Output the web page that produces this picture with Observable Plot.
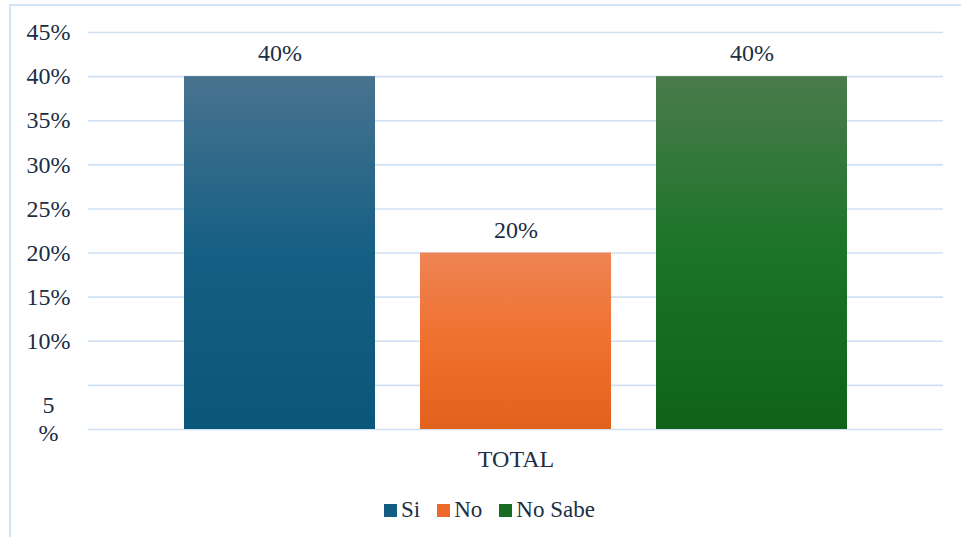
<!DOCTYPE html>
<html>
<head>
<meta charset="utf-8">
<script src="https://cdn.jsdelivr.net/npm/d3@7"></script>
<script src="https://cdn.jsdelivr.net/npm/@observablehq/plot@0.6"></script>
<style>
  html, body { margin: 0; padding: 0; background: #fff; overflow: hidden; width: 961px; height: 537px; }
  #frame { position: absolute; left: 9px; top: 4px; width: 1000px; height: 600px; border: 2px solid #d3e3f5; box-sizing: border-box; }
  #chart { position: absolute; left: 0; top: 0; }
  #legend { position: absolute; top: 497px; left: 384px; display: flex; align-items: center; font-family: "Liberation Serif", "Times New Roman", Tinos, "DejaVu Serif", serif; font-size: 23px; color: #1c2e45; white-space: nowrap; }
  .item { display: flex; align-items: center; margin-right: 17px; }
  .sw { width: 13px; height: 13px; margin-right: 4px; }
  svg text { font-family: "Liberation Serif", "Times New Roman", Tinos, "DejaVu Serif", serif !important; }
</style>
</head>
<body>
<div id="frame"></div>
<div id="chart"></div>
<div id="legend"></div>
<script>
const categories = ["Si", "No", "No Sabe"];
const values = [40, 20, 40];
const group = "TOTAL";
const yTicks = [0, 5, 10, 15, 20, 25, 30, 35, 40, 45];
const legendColors = ["#135c84", "#ee6a2a", "#176c22"];
const gradTop = ["#48738f", "#ee8454", "#4a7b4b"];
const gradMid = ["#165f84", "#f0702e", "#1b7428"];
const gradBot = ["#0a5678", "#e2621c", "#106318"];

const data = categories.map((c, i) => ({cat: c, value: values[i], group, grad: `url(#grad${i})`}));
const textColor = "#1c2e45";

const plot = Plot.plot({
  width: 961,
  height: 480,
  marginLeft: 88,
  marginRight: 18,
  marginTop: 32,
  marginBottom: 51,
  style: {fontFamily: "'Liberation Serif', 'Times New Roman', serif", fontSize: "24px", color: textColor, background: "transparent"},
  fx: {domain: [group], padding: 0, label: null},
  x: {domain: categories, paddingInner: 0.19, paddingOuter: 0.4, axis: null},
  y: {domain: [0, 45], axis: null},
  color: {type: "identity"},
  marks: [
    Plot.gridY(yTicks, {stroke: "#cfe0f3", strokeOpacity: 1, strokeWidth: 1.6}),
    Plot.axisY(yTicks.filter(t => t >= 10), {tickSize: 0, tickPadding: 40, textAnchor: "middle", tickFormat: d => d + "%", fill: textColor, label: null}),
    Plot.axisY([5], {tickSize: 0, tickPadding: 40, textAnchor: "middle", tickFormat: d => d + "\n%", dy: 33, lineHeight: 1.15, fill: textColor, label: null}),
    Plot.axisFx({anchor: "bottom", tickSize: 0, tickPadding: 20, fill: textColor, label: null}),
    Plot.barY(data, {fx: "group", x: "cat", y: "value", fill: "grad"}),
    Plot.text(data, {fx: "group", x: "cat", y: "value", text: d => d.value + "%", dy: -23, fill: textColor})
  ]
});

const svg = d3.select(plot);
const defs = svg.insert("defs", ":first-child");
categories.forEach((c, i) => {
  const g = defs.append("linearGradient").attr("id", `grad${i}`).attr("x1", 0).attr("y1", 0).attr("x2", 0).attr("y2", 1);
  g.append("stop").attr("offset", "0%").attr("stop-color", gradTop[i]);
  g.append("stop").attr("offset", "50%").attr("stop-color", gradMid[i]);
  g.append("stop").attr("offset", "100%").attr("stop-color", gradBot[i]);
});
document.getElementById("chart").appendChild(plot);

const legend = d3.select("#legend");
categories.forEach((c, i) => {
  const it = legend.append("div").attr("class", "item");
  it.append("div").attr("class", "sw").style("background", legendColors[i]);
  it.append("span").text(c);
});
</script>
</body>
</html>
